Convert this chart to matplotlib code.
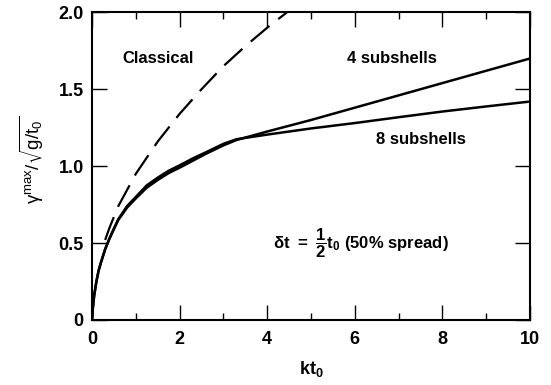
import matplotlib
matplotlib.use("Agg")
import matplotlib.pyplot as plt
from matplotlib.ticker import MultipleLocator

plt.rcParams['font.family'] = ['Liberation Sans', 'DejaVu Sans']
plt.rcParams['mathtext.default'] = 'regular'

# Data
x_classical = [0.3, 0.4, 0.6, 1.0, 1.5, 2.0, 2.5, 3.0, 3.5, 4.0, 4.45]
y_classical = [0.52, 0.60, 0.74, 0.95, 1.16, 1.34, 1.50, 1.65, 1.78, 1.90, 2.00]

x_4sub = [0, 0.02, 0.05, 0.1, 0.15, 0.2, 0.3, 0.4, 0.5, 0.6, 0.8, 1.0, 1.25, 1.5, 1.75, 2.0, 2.3, 2.6, 3.0, 3.3, 4, 5, 6, 7, 8, 9, 10]
y_4sub = [0, 0.08, 0.16, 0.25, 0.32, 0.37, 0.46, 0.53, 0.59, 0.65, 0.73, 0.79, 0.86, 0.91, 0.955, 0.99, 1.035, 1.08, 1.135, 1.17, 1.225, 1.30, 1.38, 1.46, 1.54, 1.62, 1.70]

x_8sub = [0, 0.02, 0.05, 0.1, 0.15, 0.2, 0.3, 0.4, 0.5, 0.6, 0.8, 1.0, 1.25, 1.5, 1.75, 2.0, 2.3, 2.6, 3.0, 3.3, 4, 5, 6, 7, 8, 9, 10]
y_8sub = [0, 0.08, 0.16, 0.25, 0.32, 0.37, 0.46, 0.53, 0.595, 0.655, 0.74, 0.80, 0.875, 0.925, 0.97, 1.005, 1.05, 1.09, 1.145, 1.175, 1.205, 1.245, 1.28, 1.318, 1.355, 1.388, 1.42]

x_ticks = [0, 2, 4, 6, 8, 10]
x_ticklabels = ['0', '2', '4', '6', '8', '10']
y_ticks = [0, 0.5, 1.0, 1.5, 2.0]
y_ticklabels = ['0', '0.5', '1.0', '1.5', '2.0']

fig = plt.figure(figsize=(5.51, 3.85), dpi=100)
ax = fig.add_axes([0.167, 0.169, 0.795, 0.799])

ax.plot(x_classical, y_classical, color='black', lw=1.6, dashes=(11, 5))
ax.plot(x_4sub, y_4sub, color='black', lw=1.8, solid_capstyle='butt')
ax.plot(x_8sub, y_8sub, color='black', lw=1.8, solid_capstyle='butt')

ax.set_xlim(0, 10)
ax.set_ylim(0, 2.0)
ax.set_xticks(x_ticks)
ax.set_xticklabels(x_ticklabels, fontweight='bold', fontsize=13)
ax.set_yticks(y_ticks)
ax.set_yticklabels(y_ticklabels, fontweight='bold', fontsize=13)
ax.xaxis.set_minor_locator(MultipleLocator(1))

ax.tick_params(which='both', direction='in', top=True, right=True, width=1.0)
ax.tick_params(which='major', length=11)
ax.tick_params(axis='x', which='major', pad=8)
ax.tick_params(axis='y', which='major', pad=6)
ax.tick_params(which='minor', length=5)
for s in ax.spines.values():
    s.set_linewidth(1.5)

ax.set_xlabel('kt$_0$', fontweight='bold', fontsize=13, labelpad=8)
ax.set_ylabel(r'$\gamma^{max}/\sqrt{g/t_0}$', fontsize=13.5)
ax.yaxis.set_label_coords(-0.105, 0.52)

ax.text(1.5, 1.70, 'Classical', fontweight='bold', fontsize=12, ha='center', va='center')
ax.text(6.85, 1.70, '4 subshells', fontweight='bold', fontsize=12, ha='center', va='center')
ax.text(7.5, 1.17, '8 subshells', fontweight='bold', fontsize=12, ha='center', va='center')
ax.text(6.15, 0.50, r'$\delta t\ =\ \dfrac{1}{2}t_0$ (50% spread)', fontweight='bold', fontsize=12,
        ha='center', va='center')

fig.savefig('out.png', dpi=100)
